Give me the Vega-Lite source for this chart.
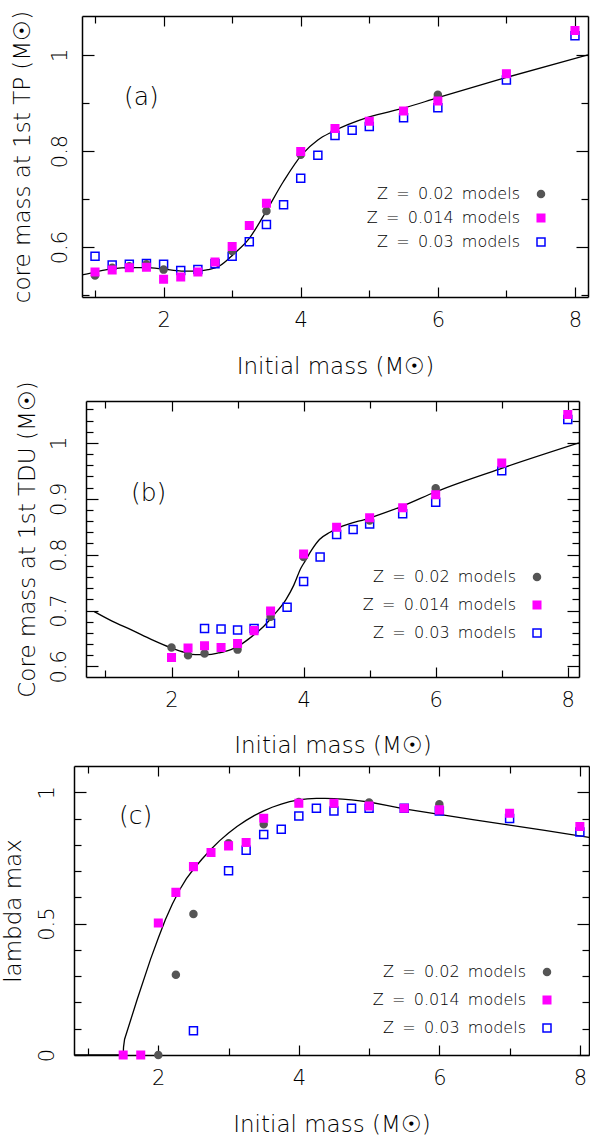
{
  "$schema": "https://vega.github.io/schema/vega-lite/v6.json",
  "padding": {"left": 0, "top": 10, "right": 0, "bottom": 0},
  "background": "white",
  "spacing": 2,
  "resolve": {
    "scale": {"shape": "independent", "fill": "independent", "stroke": "independent", "size": "independent"},
    "legend": {"shape": "independent", "fill": "independent", "stroke": "independent", "size": "independent"}
  },
  "datasets": {
    "a_curve": [
      {"mass": 0.81, "value": 0.542}, {"mass": 1.0, "value": 0.548}, {"mass": 1.27, "value": 0.555}, {"mass": 1.5, "value": 0.557},
      {"mass": 1.75, "value": 0.557}, {"mass": 2.0, "value": 0.554}, {"mass": 2.26, "value": 0.55}, {"mass": 2.5, "value": 0.55},
      {"mass": 2.65, "value": 0.553}, {"mass": 2.81, "value": 0.56}, {"mass": 3.02, "value": 0.585}, {"mass": 3.25, "value": 0.618},
      {"mass": 3.47, "value": 0.668}, {"mass": 3.75, "value": 0.737}, {"mass": 4.02, "value": 0.793}, {"mass": 4.25, "value": 0.823},
      {"mass": 4.46, "value": 0.84}, {"mass": 5.0, "value": 0.871}, {"mass": 5.5, "value": 0.889}, {"mass": 6.0, "value": 0.911},
      {"mass": 7.0, "value": 0.953}, {"mass": 8.19, "value": 1.0}
    ],
    "a_pts": [
      {"mass": 1, "value": 0.581, "series": "Z \u2009= \u20090.03 \u2009models"},
      {"mass": 1.25, "value": 0.5625, "series": "Z \u2009= \u20090.03 \u2009models"},
      {"mass": 1.5, "value": 0.564, "series": "Z \u2009= \u20090.03 \u2009models"},
      {"mass": 1.75, "value": 0.566, "series": "Z \u2009= \u20090.03 \u2009models"},
      {"mass": 2, "value": 0.564, "series": "Z \u2009= \u20090.03 \u2009models"},
      {"mass": 2.25, "value": 0.551, "series": "Z \u2009= \u20090.03 \u2009models"},
      {"mass": 2.5, "value": 0.553, "series": "Z \u2009= \u20090.03 \u2009models"},
      {"mass": 2.75, "value": 0.565, "series": "Z \u2009= \u20090.03 \u2009models"},
      {"mass": 3, "value": 0.581, "series": "Z \u2009= \u20090.03 \u2009models"},
      {"mass": 3.25, "value": 0.611, "series": "Z \u2009= \u20090.03 \u2009models"},
      {"mass": 3.5, "value": 0.647, "series": "Z \u2009= \u20090.03 \u2009models"},
      {"mass": 3.75, "value": 0.688, "series": "Z \u2009= \u20090.03 \u2009models"},
      {"mass": 4, "value": 0.743, "series": "Z \u2009= \u20090.03 \u2009models"},
      {"mass": 4.25, "value": 0.791, "series": "Z \u2009= \u20090.03 \u2009models"},
      {"mass": 4.5, "value": 0.832, "series": "Z \u2009= \u20090.03 \u2009models"},
      {"mass": 4.75, "value": 0.843, "series": "Z \u2009= \u20090.03 \u2009models"},
      {"mass": 5, "value": 0.851, "series": "Z \u2009= \u20090.03 \u2009models"},
      {"mass": 5.5, "value": 0.869, "series": "Z \u2009= \u20090.03 \u2009models"},
      {"mass": 6, "value": 0.89, "series": "Z \u2009= \u20090.03 \u2009models"},
      {"mass": 7, "value": 0.948, "series": "Z \u2009= \u20090.03 \u2009models"},
      {"mass": 8, "value": 1.04, "series": "Z \u2009= \u20090.03 \u2009models"},
      {"mass": 1, "value": 0.541, "series": "Z \u2009= \u20090.02 \u2009models"},
      {"mass": 1.25, "value": 0.557, "series": "Z \u2009= \u20090.02 \u2009models"},
      {"mass": 1.5, "value": 0.56, "series": "Z \u2009= \u20090.02 \u2009models"},
      {"mass": 1.75, "value": 0.564, "series": "Z \u2009= \u20090.02 \u2009models"},
      {"mass": 2, "value": 0.553, "series": "Z \u2009= \u20090.02 \u2009models"},
      {"mass": 3, "value": 0.592, "series": "Z \u2009= \u20090.02 \u2009models"},
      {"mass": 3.5, "value": 0.675, "series": "Z \u2009= \u20090.02 \u2009models"},
      {"mass": 4, "value": 0.792, "series": "Z \u2009= \u20090.02 \u2009models"},
      {"mass": 6, "value": 0.917, "series": "Z \u2009= \u20090.02 \u2009models"},
      {"mass": 1, "value": 0.548, "series": "Z \u2009= \u20090.014 \u2009models"},
      {"mass": 1.25, "value": 0.552, "series": "Z \u2009= \u20090.014 \u2009models"},
      {"mass": 1.5, "value": 0.557, "series": "Z \u2009= \u20090.014 \u2009models"},
      {"mass": 1.75, "value": 0.558, "series": "Z \u2009= \u20090.014 \u2009models"},
      {"mass": 2, "value": 0.533, "series": "Z \u2009= \u20090.014 \u2009models"},
      {"mass": 2.25, "value": 0.5375, "series": "Z \u2009= \u20090.014 \u2009models"},
      {"mass": 2.5, "value": 0.548, "series": "Z \u2009= \u20090.014 \u2009models"},
      {"mass": 2.75, "value": 0.569, "series": "Z \u2009= \u20090.014 \u2009models"},
      {"mass": 3, "value": 0.601, "series": "Z \u2009= \u20090.014 \u2009models"},
      {"mass": 3.25, "value": 0.645, "series": "Z \u2009= \u20090.014 \u2009models"},
      {"mass": 3.5, "value": 0.691, "series": "Z \u2009= \u20090.014 \u2009models"},
      {"mass": 4, "value": 0.799, "series": "Z \u2009= \u20090.014 \u2009models"},
      {"mass": 4.5, "value": 0.847, "series": "Z \u2009= \u20090.014 \u2009models"},
      {"mass": 5, "value": 0.862, "series": "Z \u2009= \u20090.014 \u2009models"},
      {"mass": 5.5, "value": 0.883, "series": "Z \u2009= \u20090.014 \u2009models"},
      {"mass": 6, "value": 0.904, "series": "Z \u2009= \u20090.014 \u2009models"},
      {"mass": 7, "value": 0.961, "series": "Z \u2009= \u20090.014 \u2009models"},
      {"mass": 8, "value": 1.051, "series": "Z \u2009= \u20090.014 \u2009models"}
    ],
    "b_curve": [
      {"mass": 0.83, "value": 0.698}, {"mass": 1.1, "value": 0.681}, {"mass": 1.4, "value": 0.665}, {"mass": 1.7, "value": 0.648},
      {"mass": 2.0, "value": 0.633}, {"mass": 2.2, "value": 0.625}, {"mass": 2.36, "value": 0.621}, {"mass": 2.55, "value": 0.621},
      {"mass": 2.71, "value": 0.624}, {"mass": 2.9, "value": 0.63}, {"mass": 3.05, "value": 0.639}, {"mass": 3.2, "value": 0.652},
      {"mass": 3.39, "value": 0.671}, {"mass": 3.55, "value": 0.692}, {"mass": 3.73, "value": 0.719}, {"mass": 3.85, "value": 0.745},
      {"mass": 3.96, "value": 0.776}, {"mass": 4.02, "value": 0.788}, {"mass": 4.12, "value": 0.808}, {"mass": 4.24, "value": 0.827},
      {"mass": 4.4, "value": 0.84}, {"mass": 4.53, "value": 0.848}, {"mass": 5.01, "value": 0.866}, {"mass": 5.5, "value": 0.887},
      {"mass": 6.01, "value": 0.913}, {"mass": 7.01, "value": 0.955}, {"mass": 8.17, "value": 1.0}
    ],
    "b_pts": [
      {"mass": 2.5, "value": 0.668, "series": "Z \u2009= \u20090.03 \u2009models"},
      {"mass": 2.75, "value": 0.667, "series": "Z \u2009= \u20090.03 \u2009models"},
      {"mass": 3, "value": 0.665, "series": "Z \u2009= \u20090.03 \u2009models"},
      {"mass": 3.25, "value": 0.668, "series": "Z \u2009= \u20090.03 \u2009models"},
      {"mass": 3.5, "value": 0.677, "series": "Z \u2009= \u20090.03 \u2009models"},
      {"mass": 3.75, "value": 0.706, "series": "Z \u2009= \u20090.03 \u2009models"},
      {"mass": 4, "value": 0.752, "series": "Z \u2009= \u20090.03 \u2009models"},
      {"mass": 4.25, "value": 0.796, "series": "Z \u2009= \u20090.03 \u2009models"},
      {"mass": 4.5, "value": 0.836, "series": "Z \u2009= \u20090.03 \u2009models"},
      {"mass": 4.75, "value": 0.845, "series": "Z \u2009= \u20090.03 \u2009models"},
      {"mass": 5, "value": 0.855, "series": "Z \u2009= \u20090.03 \u2009models"},
      {"mass": 5.5, "value": 0.873, "series": "Z \u2009= \u20090.03 \u2009models"},
      {"mass": 6, "value": 0.894, "series": "Z \u2009= \u20090.03 \u2009models"},
      {"mass": 7, "value": 0.95, "series": "Z \u2009= \u20090.03 \u2009models"},
      {"mass": 8, "value": 1.042, "series": "Z \u2009= \u20090.03 \u2009models"},
      {"mass": 2, "value": 0.634, "series": "Z \u2009= \u20090.02 \u2009models"},
      {"mass": 2.25, "value": 0.62, "series": "Z \u2009= \u20090.02 \u2009models"},
      {"mass": 2.5, "value": 0.623, "series": "Z \u2009= \u20090.02 \u2009models"},
      {"mass": 3, "value": 0.63, "series": "Z \u2009= \u20090.02 \u2009models"},
      {"mass": 3.5, "value": 0.689, "series": "Z \u2009= \u20090.02 \u2009models"},
      {"mass": 4, "value": 0.796, "series": "Z \u2009= \u20090.02 \u2009models"},
      {"mass": 5, "value": 0.861, "series": "Z \u2009= \u20090.02 \u2009models"},
      {"mass": 6, "value": 0.919, "series": "Z \u2009= \u20090.02 \u2009models"},
      {"mass": 2, "value": 0.616, "series": "Z \u2009= \u20090.014 \u2009models"},
      {"mass": 2.25, "value": 0.633, "series": "Z \u2009= \u20090.014 \u2009models"},
      {"mass": 2.5, "value": 0.637, "series": "Z \u2009= \u20090.014 \u2009models"},
      {"mass": 2.75, "value": 0.634, "series": "Z \u2009= \u20090.014 \u2009models"},
      {"mass": 3, "value": 0.641, "series": "Z \u2009= \u20090.014 \u2009models"},
      {"mass": 3.25, "value": 0.664, "series": "Z \u2009= \u20090.014 \u2009models"},
      {"mass": 3.5, "value": 0.699, "series": "Z \u2009= \u20090.014 \u2009models"},
      {"mass": 4, "value": 0.801, "series": "Z \u2009= \u20090.014 \u2009models"},
      {"mass": 4.5, "value": 0.849, "series": "Z \u2009= \u20090.014 \u2009models"},
      {"mass": 5, "value": 0.866, "series": "Z \u2009= \u20090.014 \u2009models"},
      {"mass": 5.5, "value": 0.884, "series": "Z \u2009= \u20090.014 \u2009models"},
      {"mass": 6, "value": 0.907, "series": "Z \u2009= \u20090.014 \u2009models"},
      {"mass": 7, "value": 0.964, "series": "Z \u2009= \u20090.014 \u2009models"},
      {"mass": 8, "value": 1.051, "series": "Z \u2009= \u20090.014 \u2009models"}
    ],
    "c_curve": [
      {"mass": 0.8, "value": 0}, {"mass": 1.5, "value": 0}, {"mass": 1.505, "value": 0.03}, {"mass": 1.52, "value": 0.06},
      {"mass": 1.7, "value": 0.212}, {"mass": 1.89, "value": 0.365}, {"mass": 2.0, "value": 0.445}, {"mass": 2.1, "value": 0.515},
      {"mass": 2.2, "value": 0.575}, {"mass": 2.3, "value": 0.627}, {"mass": 2.4, "value": 0.671}, {"mass": 2.5, "value": 0.707},
      {"mass": 2.62, "value": 0.745}, {"mass": 2.75, "value": 0.783}, {"mass": 2.87, "value": 0.815}, {"mass": 3.0, "value": 0.845},
      {"mass": 3.12, "value": 0.87}, {"mass": 3.25, "value": 0.893}, {"mass": 3.37, "value": 0.912}, {"mass": 3.5, "value": 0.929},
      {"mass": 3.62, "value": 0.943}, {"mass": 3.75, "value": 0.955}, {"mass": 3.87, "value": 0.964}, {"mass": 4.0, "value": 0.971},
      {"mass": 4.12, "value": 0.975}, {"mass": 4.25, "value": 0.977}, {"mass": 4.37, "value": 0.977}, {"mass": 4.5, "value": 0.976},
      {"mass": 4.62, "value": 0.974}, {"mass": 4.75, "value": 0.971}, {"mass": 4.87, "value": 0.967}, {"mass": 5.0, "value": 0.963},
      {"mass": 5.25, "value": 0.95}, {"mass": 5.5, "value": 0.937}, {"mass": 5.75, "value": 0.926}, {"mass": 6.0, "value": 0.916},
      {"mass": 6.5, "value": 0.895}, {"mass": 7.0, "value": 0.875}, {"mass": 7.5, "value": 0.855}, {"mass": 8.13, "value": 0.828}
    ],
    "c_pts": [
      {"mass": 2.5, "value": 0.092, "series": "Z \u2009= \u20090.03 \u2009models"},
      {"mass": 3, "value": 0.701, "series": "Z \u2009= \u20090.03 \u2009models"},
      {"mass": 3.25, "value": 0.779, "series": "Z \u2009= \u20090.03 \u2009models"},
      {"mass": 3.5, "value": 0.839, "series": "Z \u2009= \u20090.03 \u2009models"},
      {"mass": 3.75, "value": 0.859, "series": "Z \u2009= \u20090.03 \u2009models"},
      {"mass": 4, "value": 0.91, "series": "Z \u2009= \u20090.03 \u2009models"},
      {"mass": 4.25, "value": 0.939, "series": "Z \u2009= \u20090.03 \u2009models"},
      {"mass": 4.5, "value": 0.929, "series": "Z \u2009= \u20090.03 \u2009models"},
      {"mass": 4.75, "value": 0.939, "series": "Z \u2009= \u20090.03 \u2009models"},
      {"mass": 5, "value": 0.939, "series": "Z \u2009= \u20090.03 \u2009models"},
      {"mass": 5.5, "value": 0.939, "series": "Z \u2009= \u20090.03 \u2009models"},
      {"mass": 6, "value": 0.929, "series": "Z \u2009= \u20090.03 \u2009models"},
      {"mass": 7, "value": 0.9, "series": "Z \u2009= \u20090.03 \u2009models"},
      {"mass": 8, "value": 0.849, "series": "Z \u2009= \u20090.03 \u2009models"},
      {"mass": 2, "value": 0, "series": "Z \u2009= \u20090.02 \u2009models"},
      {"mass": 2.25, "value": 0.305, "series": "Z \u2009= \u20090.02 \u2009models"},
      {"mass": 2.5, "value": 0.537, "series": "Z \u2009= \u20090.02 \u2009models"},
      {"mass": 3, "value": 0.806, "series": "Z \u2009= \u20090.02 \u2009models"},
      {"mass": 3.5, "value": 0.878, "series": "Z \u2009= \u20090.02 \u2009models"},
      {"mass": 4, "value": 0.963, "series": "Z \u2009= \u20090.02 \u2009models"},
      {"mass": 5, "value": 0.961, "series": "Z \u2009= \u20090.02 \u2009models"},
      {"mass": 6, "value": 0.954, "series": "Z \u2009= \u20090.02 \u2009models"},
      {"mass": 1.5, "value": 0, "series": "Z \u2009= \u20090.014 \u2009models"},
      {"mass": 1.75, "value": 0, "series": "Z \u2009= \u20090.014 \u2009models"},
      {"mass": 2, "value": 0.502, "series": "Z \u2009= \u20090.014 \u2009models"},
      {"mass": 2.25, "value": 0.619, "series": "Z \u2009= \u20090.014 \u2009models"},
      {"mass": 2.5, "value": 0.717, "series": "Z \u2009= \u20090.014 \u2009models"},
      {"mass": 2.75, "value": 0.771, "series": "Z \u2009= \u20090.014 \u2009models"},
      {"mass": 3, "value": 0.796, "series": "Z \u2009= \u20090.014 \u2009models"},
      {"mass": 3.25, "value": 0.809, "series": "Z \u2009= \u20090.014 \u2009models"},
      {"mass": 3.5, "value": 0.901, "series": "Z \u2009= \u20090.014 \u2009models"},
      {"mass": 4, "value": 0.958, "series": "Z \u2009= \u20090.014 \u2009models"},
      {"mass": 4.5, "value": 0.958, "series": "Z \u2009= \u20090.014 \u2009models"},
      {"mass": 5, "value": 0.948, "series": "Z \u2009= \u20090.014 \u2009models"},
      {"mass": 5.5, "value": 0.939, "series": "Z \u2009= \u20090.014 \u2009models"},
      {"mass": 6, "value": 0.933, "series": "Z \u2009= \u20090.014 \u2009models"},
      {"mass": 7, "value": 0.92, "series": "Z \u2009= \u20090.014 \u2009models"},
      {"mass": 8, "value": 0.87, "series": "Z \u2009= \u20090.014 \u2009models"}
    ]
  },
  "vconcat": [
    {
      "spacing": 0,
      "resolve": {
        "scale": {"shape": "independent", "fill": "independent", "stroke": "independent", "size": "independent"},
        "legend": {"shape": "independent", "fill": "independent", "stroke": "independent", "size": "independent"}
      },
      "hconcat": [
        {"width": 10, "height": 1, "data": {"values": []}, "mark": {"type": "point", "opacity": 0}, "encoding": {}},
        {
          "width": 506, "height": 281,
          "title": {"text": "(a)", "anchor": "start", "frame": "group", "orient": "top", "offset": -112, "dx": 42, "baseline": "middle", "fontSize": 25, "fontWeight": 300, "font": "DejaVu Sans"},
          "layer": [
            {
              "data": {"name": "a_curve"},
              "mark": {"type": "line", "color": "black", "strokeWidth": 1.3, "interpolate": "monotone", "clip": true},
              "encoding": {
                "x": {"field": "mass", "type": "quantitative", "scale": {"domain": [0.81, 8.19], "nice": false, "zero": false},
                  "axis": {"orient": "bottom", "values": [1,2,3,4,5,6,7,8], "labelExpr": "datum.value % 2 == 0 ? datum.label : ''",
                    "tickSize": {"condition": {"test": "datum.value % 2 == 0", "value": -10}, "value": -7},
                    "labelPadding": 22, "title": "Initial mass (M\u2609)", "titlePadding": 22}},
                "y": {"field": "value", "type": "quantitative", "scale": {"domain": [0.496, 1.081], "nice": false, "zero": false},
                  "axis": {"orient": "left", "values": [0.5,0.6,0.7,0.8,0.9,1], "format": "~g",
                    "labelExpr": "abs(datum.value*5 - round(datum.value*5)) < 0.01 ? datum.label : ''",
                    "tickSize": {"condition": {"test": "abs(datum.value*5 - round(datum.value*5)) < 0.01", "value": -12}, "value": -7},
                    "labelAngle": -90, "labelAlign": "center", "labelBaseline": "bottom", "labelPadding": 23.5,
                    "title": "core mass at 1st TP (M\u2609)", "titlePadding": 10.5}}
              }
            },
            {
              "data": {"name": "a_pts"},
              "mark": {"type": "point", "opacity": 1, "strokeWidth": 1.5},
              "encoding": {
                "x": {"field": "mass", "type": "quantitative",
                  "axis": {"orient": "top", "values": [1,2,3,4,5,6,7,8], "labels": false, "title": null,
                    "tickSize": {"condition": {"test": "datum.value % 2 == 0", "value": -10}, "value": -7}}},
                "y": {"field": "value", "type": "quantitative",
                  "axis": {"orient": "right", "values": [0.5,0.6,0.7,0.8,0.9,1], "labels": false, "title": null,
                    "tickSize": {"condition": {"test": "abs(datum.value*5 - round(datum.value*5)) < 0.01", "value": -12}, "value": -7}}},
                "shape": {"field": "series", "type": "nominal",
                  "scale": {"domain": ["Z \u2009= \u20090.02 \u2009models", "Z \u2009= \u20090.014 \u2009models", "Z \u2009= \u20090.03 \u2009models"], "range": ["circle", "square", "square"]},
                  "legend": {"orient": "none", "legendX": 451, "legendY": 170, "title": null, "labelAlign": "right", "labelOffset": -29, "rowPadding": 8}},
                "fill": {"field": "series", "type": "nominal",
                  "scale": {"domain": ["Z \u2009= \u20090.02 \u2009models", "Z \u2009= \u20090.014 \u2009models", "Z \u2009= \u20090.03 \u2009models"], "range": ["#555555", "#ff00ff", "transparent"]}},
                "stroke": {"field": "series", "type": "nominal",
                  "scale": {"domain": ["Z \u2009= \u20090.02 \u2009models", "Z \u2009= \u20090.014 \u2009models", "Z \u2009= \u20090.03 \u2009models"], "range": ["#555555", "#ff00ff", "#0000ff"]}},
                "size": {"field": "series", "type": "nominal",
                  "scale": {"domain": ["Z \u2009= \u20090.02 \u2009models", "Z \u2009= \u20090.014 \u2009models", "Z \u2009= \u20090.03 \u2009models"], "range": [49, 64, 144]}}
              }
            }
          ],
          "resolve": {"axis": {"x": "independent", "y": "independent"}}
        }
      ]
    },
    {
      "spacing": 8,
      "resolve": {
        "scale": {"shape": "independent", "fill": "independent", "stroke": "independent", "size": "independent"},
        "legend": {"shape": "independent", "fill": "independent", "stroke": "independent", "size": "independent"}
      },
      "vconcat": [
        {
          "spacing": 0,
          "resolve": {
            "scale": {"shape": "independent", "fill": "independent", "stroke": "independent", "size": "independent"},
            "legend": {"shape": "independent", "fill": "independent", "stroke": "independent", "size": "independent"}
          },
          "hconcat": [
            {"width": 16, "height": 1, "data": {"values": []}, "mark": {"type": "point", "opacity": 0}, "encoding": {}},
            {
              "width": 493, "height": 276,
              "title": {"text": "(b)", "anchor": "start", "frame": "group", "orient": "top", "offset": -137, "dx": 45, "baseline": "middle", "fontSize": 25, "fontWeight": 300, "font": "DejaVu Sans"},
              "layer": [
                {
                  "data": {"name": "b_curve"},
                  "mark": {"type": "line", "color": "black", "strokeWidth": 1.3, "interpolate": "monotone", "clip": true},
                  "encoding": {
                    "x": {"field": "mass", "type": "quantitative", "scale": {"domain": [0.705, 8.17], "nice": false, "zero": false},
                      "axis": {"orient": "bottom", "values": [1,2,3,4,5,6,7,8], "labelExpr": "datum.value % 2 == 0 ? datum.label : ''",
                        "tickSize": {"condition": {"test": "datum.value % 2 == 0", "value": -10}, "value": -7},
                        "labelPadding": 22, "title": "Initial mass (M\u2609)", "titlePadding": 21}},
                    "y": {"field": "value", "type": "quantitative", "scale": {"domain": [0.581, 1.075], "nice": false, "zero": false},
                      "axis": {"orient": "left", "values": [0.58,0.6,0.62,0.64,0.66,0.68,0.7,0.72,0.74,0.76,0.78,0.8,0.82,0.84,0.86,0.88,0.9,0.92,0.94,0.96,0.98,1,1.02,1.04,1.06], "format": "~g",
                        "labelExpr": "abs(datum.value*10 - round(datum.value*10)) < 0.01 ? datum.label : ''",
                        "tickSize": {"condition": {"test": "abs(datum.value*10 - round(datum.value*10)) < 0.01", "value": -12}, "value": -7},
                        "labelAngle": -90, "labelAlign": "center", "labelBaseline": "bottom", "labelPadding": 28.5,
                        "title": "Core mass at 1st TDU (M\u2609)", "titlePadding": 4}}
                  }
                },
                {
                  "data": {"name": "b_pts"},
                  "mark": {"type": "point", "opacity": 1, "strokeWidth": 1.5},
                  "encoding": {
                    "x": {"field": "mass", "type": "quantitative",
                      "axis": {"orient": "top", "values": [1,2,3,4,5,6,7,8], "labels": false, "title": null,
                        "tickSize": {"condition": {"test": "datum.value % 2 == 0", "value": -10}, "value": -7}}},
                    "y": {"field": "value", "type": "quantitative",
                      "axis": {"orient": "right", "values": [0.58,0.6,0.62,0.64,0.66,0.68,0.7,0.72,0.74,0.76,0.78,0.8,0.82,0.84,0.86,0.88,0.9,0.92,0.94,0.96,0.98,1,1.02,1.04,1.06], "labels": false, "title": null,
                        "tickSize": {"condition": {"test": "abs(datum.value*10 - round(datum.value*10)) < 0.01", "value": -12}, "value": -7}}},
                    "shape": {"field": "series", "type": "nominal",
                      "scale": {"domain": ["Z \u2009= \u20090.02 \u2009models", "Z \u2009= \u20090.014 \u2009models", "Z \u2009= \u20090.03 \u2009models"], "range": ["circle", "square", "square"]},
                      "legend": {"orient": "none", "legendX": 443, "legendY": 168, "title": null, "labelAlign": "right", "labelOffset": -29, "rowPadding": 12}},
                    "fill": {"field": "series", "type": "nominal",
                      "scale": {"domain": ["Z \u2009= \u20090.02 \u2009models", "Z \u2009= \u20090.014 \u2009models", "Z \u2009= \u20090.03 \u2009models"], "range": ["#555555", "#ff00ff", "transparent"]}},
                    "stroke": {"field": "series", "type": "nominal",
                      "scale": {"domain": ["Z \u2009= \u20090.02 \u2009models", "Z \u2009= \u20090.014 \u2009models", "Z \u2009= \u20090.03 \u2009models"], "range": ["#555555", "#ff00ff", "#0000ff"]}},
                    "size": {"field": "series", "type": "nominal",
                      "scale": {"domain": ["Z \u2009= \u20090.02 \u2009models", "Z \u2009= \u20090.014 \u2009models", "Z \u2009= \u20090.03 \u2009models"], "range": [49, 64, 144]}}
                  }
                }
              ],
              "resolve": {"axis": {"x": "independent", "y": "independent"}}
            }
          ]
        },
        {
          "spacing": 0,
          "resolve": {
            "scale": {"shape": "independent", "fill": "independent", "stroke": "independent", "size": "independent"},
            "legend": {"shape": "independent", "fill": "independent", "stroke": "independent", "size": "independent"}
          },
          "hconcat": [
            {"width": 2, "height": 1, "data": {"values": []}, "mark": {"type": "point", "opacity": 0}, "encoding": {}},
            {
              "width": 515, "height": 289,
              "title": {"text": "(c)", "anchor": "start", "frame": "group", "orient": "top", "offset": -76, "dx": 45, "baseline": "middle", "fontSize": 25, "fontWeight": 300, "font": "DejaVu Sans"},
              "layer": [
                {
                  "data": {"name": "c_curve"},
                  "mark": {"type": "line", "color": "black", "strokeWidth": 1.3, "interpolate": "linear", "clip": true},
                  "encoding": {
                    "x": {"field": "mass", "type": "quantitative", "scale": {"domain": [0.8, 8.13], "nice": false, "zero": false},
                      "axis": {"orient": "bottom", "values": [1,2,3,4,5,6,7,8], "labelExpr": "datum.value % 2 == 0 ? datum.label : ''",
                        "tickSize": {"condition": {"test": "datum.value % 2 == 0", "value": -10}, "value": -7},
                        "labelPadding": 22, "title": "Initial mass (M\u2609)", "titlePadding": 22}},
                    "y": {"field": "value", "type": "quantitative", "scale": {"domain": [0, 1.1], "nice": false, "zero": false},
                      "axis": {"orient": "left", "values": [0,0.1,0.2,0.3,0.4,0.5,0.6,0.7,0.8,0.9,1], "format": "~g",
                        "labelExpr": "abs(datum.value*2 - round(datum.value*2)) < 0.01 ? datum.label : ''",
                        "tickSize": {"condition": {"test": "abs(datum.value*2 - round(datum.value*2)) < 0.01", "value": -12}, "value": -7},
                        "labelAngle": -90, "labelAlign": "center", "labelBaseline": "bottom", "labelPadding": 28.5,
                        "title": "lambda max", "titlePadding": 6}}
                  }
                },
                {
                  "data": {"name": "c_pts"},
                  "mark": {"type": "point", "opacity": 1, "strokeWidth": 1.5},
                  "encoding": {
                    "x": {"field": "mass", "type": "quantitative",
                      "axis": {"orient": "top", "values": [1,2,3,4,5,6,7,8], "labels": false, "title": null,
                        "tickSize": {"condition": {"test": "datum.value % 2 == 0", "value": -10}, "value": -7}}},
                    "y": {"field": "value", "type": "quantitative",
                      "axis": {"orient": "right", "values": [0,0.1,0.2,0.3,0.4,0.5,0.6,0.7,0.8,0.9,1], "labels": false, "title": null,
                        "tickSize": {"condition": {"test": "abs(datum.value*2 - round(datum.value*2)) < 0.01", "value": -12}, "value": -7}}},
                    "shape": {"field": "series", "type": "nominal",
                      "scale": {"domain": ["Z \u2009= \u20090.02 \u2009models", "Z \u2009= \u20090.014 \u2009models", "Z \u2009= \u20090.03 \u2009models"], "range": ["circle", "square", "square"]},
                      "legend": {"orient": "none", "legendX": 465, "legendY": 198, "title": null, "labelAlign": "right", "labelOffset": -29, "rowPadding": 12}},
                    "fill": {"field": "series", "type": "nominal",
                      "scale": {"domain": ["Z \u2009= \u20090.02 \u2009models", "Z \u2009= \u20090.014 \u2009models", "Z \u2009= \u20090.03 \u2009models"], "range": ["#555555", "#ff00ff", "transparent"]}},
                    "stroke": {"field": "series", "type": "nominal",
                      "scale": {"domain": ["Z \u2009= \u20090.02 \u2009models", "Z \u2009= \u20090.014 \u2009models", "Z \u2009= \u20090.03 \u2009models"], "range": ["#555555", "#ff00ff", "#0000ff"]}},
                    "size": {"field": "series", "type": "nominal",
                      "scale": {"domain": ["Z \u2009= \u20090.02 \u2009models", "Z \u2009= \u20090.014 \u2009models", "Z \u2009= \u20090.03 \u2009models"], "range": [49, 64, 144]}}
                  }
                }
              ],
              "resolve": {"axis": {"x": "independent", "y": "independent"}}
            }
          ]
        }
      ]
    }
  ],
  "config": {
    "font": "DejaVu Sans",
    "view": {"stroke": null},
    "title": {"font": "DejaVu Sans", "fontWeight": 300, "color": "#000000"},
    "axis": {"labelFont": "DejaVu Sans", "titleFont": "DejaVu Sans", "labelFontSize": 21, "titleFontSize": 23,
      "labelFontWeight": 300, "titleFontWeight": 300, "labelColor": "#000000", "titleColor": "#000000",
      "domainColor": "#000000", "tickColor": "#000000", "domainWidth": 1.5, "tickWidth": 1.2, "grid": false, "labelFlush": false, "labelOverlap": false},
    "legend": {"labelFont": "DejaVu Sans", "labelFontSize": 16, "labelColor": "#000000", "labelFontWeight": 300, "padding": 0, "symbolStrokeWidth": 1.5, "labelLimit": 400}
  }
}
